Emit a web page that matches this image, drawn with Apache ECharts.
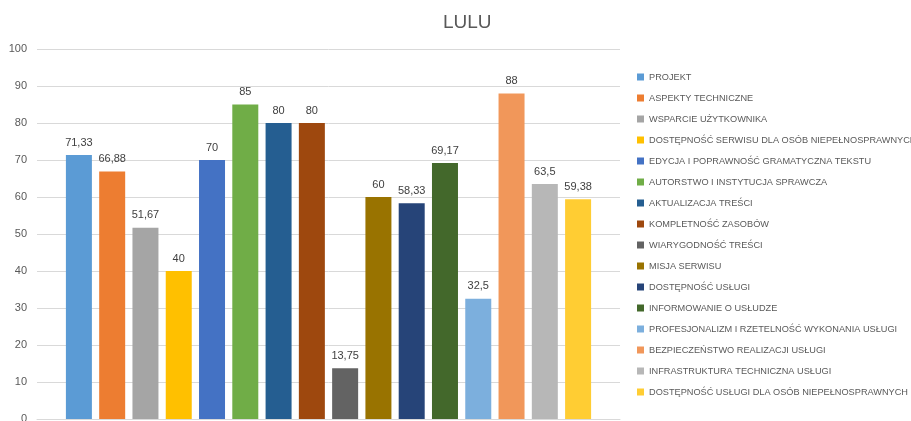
<!DOCTYPE html>
<html>
<head>
<meta charset="utf-8">
<script src="https://cdn.jsdelivr.net/npm/echarts@6/dist/echarts.min.js"></script>
<style>
  html, body { margin: 0; padding: 0; background: #fff; }
  #chart { width: 911px; height: 421px; }
</style>
</head>
<body>
<div id="chart"></div>
<script>
// dane
const categories = [""];
const seriesNames = [
  "PROJEKT",
  "ASPEKTY TECHNICZNE",
  "WSPARCIE UŻYTKOWNIKA",
  "DOSTĘPNOŚĆ SERWISU DLA OSÓB NIEPEŁNOSPRAWNYCH",
  "EDYCJA I POPRAWNOŚĆ GRAMATYCZNA TEKSTU",
  "AUTORSTWO I INSTYTUCJA SPRAWCZA",
  "AKTUALIZACJA TREŚCI",
  "KOMPLETNOŚĆ ZASOBÓW",
  "WIARYGODNOŚĆ TREŚCI",
  "MISJA SERWISU",
  "DOSTĘPNOŚĆ USŁUGI",
  "INFORMOWANIE O USŁUDZE",
  "PROFESJONALIZM I RZETELNOŚĆ WYKONANIA USŁUGI",
  "BEZPIECZEŃSTWO REALIZACJI USŁUGI",
  "INFRASTRUKTURA TECHNICZNA USŁUGI",
  "DOSTĘPNOŚĆ USŁUGI DLA OSÓB NIEPEŁNOSPRAWNYCH"
];
const seriesValues = [71.33, 66.88, 51.67, 40, 70, 85, 80, 80, 13.75, 60, 58.33, 69.17, 32.5, 88, 63.5, 59.38];
const colors = [
  "#5B9BD5", "#ED7D31", "#A5A5A5", "#FFC000", "#4472C4", "#70AD47",
  "#255E91", "#9E480E", "#636363", "#997300", "#264478", "#43682B",
  "#7CAFDD", "#F1975A", "#B7B7B7", "#FFCD33"
];

const chart = echarts.init(document.getElementById("chart"));
const font = "Liberation Sans";

chart.setOption({
  color: colors,
  animation: false,
  // tytuł
  title: {
    text: "LULU",
    left: 438,
    top: 8,
    textStyle: { fontFamily: font, fontSize: 19, fontWeight: "normal", color: "#595959" }
  },
  // legenda
  legend: {
    orient: "vertical",
    left: 632,
    top: 66,
    itemWidth: 7,
    itemHeight: 7,
    itemGap: 9,
    icon: "rect",
    textStyle: { fontFamily: font, fontSize: 9.2, lineHeight: 12, color: "#595959" },
    data: seriesNames
  },
  grid: {
    left: 37,
    right: 291,
    top: 49,
    bottom: 2,
    outerBoundsMode: "none"
  },
  xAxis: {
    type: "category",
    data: categories,
    axisTick: { show: false },
    axisLabel: { show: false },
    axisLine: { lineStyle: { color: "#d9d9d9" } }
  },
  yAxis: {
    type: "value",
    min: 0,
    max: 100,
    interval: 10,
    axisLabel: { fontFamily: font, fontSize: 11, color: "#595959", margin: 10 },
    splitLine: { lineStyle: { color: "#d9d9d9" } }
  },
  series: seriesNames.map((name, i) => ({
    name: name,
    type: "bar",
    data: [seriesValues[i]],
    barWidth: 26,
    barGap: "28%",
    label: {
      show: true,
      position: "top",
      distance: 7,
      fontFamily: font,
      fontSize: 11,
      color: "#404040",
      formatter: p => String(p.value).replace(".", ",")
    }
  }))
});
</script>
</body>
</html>
